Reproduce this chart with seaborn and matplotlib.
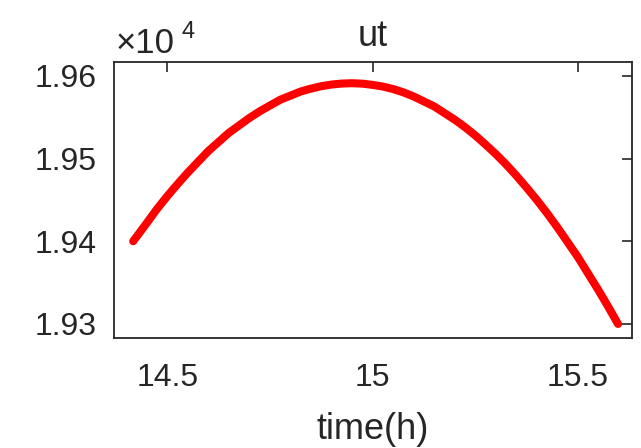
import matplotlib
matplotlib.use("Agg")
import matplotlib.pyplot as plt
from matplotlib.ticker import FuncFormatter, FixedLocator
import seaborn as sns
import pandas as pd

# Time of day (hours) and the ut value over the pass
time_h = [14.417, 14.45, 14.475, 14.50, 14.525, 14.55, 14.575, 14.60, 14.625,
          14.65, 14.675, 14.70, 14.725, 14.75, 14.775, 14.80, 14.825, 14.85,
          14.875, 14.90, 14.925, 14.95, 14.975, 15.00, 15.025, 15.05, 15.075,
          15.10, 15.125, 15.15, 15.175, 15.20, 15.225, 15.25, 15.275, 15.30,
          15.325, 15.35, 15.375, 15.40, 15.425, 15.45, 15.475, 15.50, 15.525,
          15.55, 15.575, 15.598]
ut = [19400.0, 19422.0, 19439.0, 19454.5, 19469.0, 19483.0, 19496.0, 19509.0,
      19520.0, 19531.0, 19540.0, 19549.0, 19557.0, 19564.0, 19571.0, 19576.0,
      19581.0, 19584.5, 19587.4, 19589.4, 19590.6, 19591.0, 19590.5, 19589.0,
      19587.0, 19584.0, 19580.0, 19575.0, 19569.0, 19563.0, 19555.0, 19547.0,
      19538.0, 19528.0, 19517.0, 19505.5, 19493.0, 19479.5, 19465.0, 19450.0,
      19434.0, 19417.0, 19399.0, 19381.0, 19361.0, 19341.0, 19320.0, 19300.0]

x_ticks = [14.5, 15.0, 15.5]
x_tick_labels = ["14.5", "15", "15.5"]
y_ticks = [19300, 19400, 19500, 19600]

df = pd.DataFrame({"time(h)": time_h, "ut": ut})

sns.set_style("white")
plt.rcParams["font.family"] = ["Liberation Sans", "DejaVu Sans"]

ink = "#262626"
W, H = 641, 448
fig = plt.figure(figsize=(W / 100, H / 100), dpi=100)
left, right, top, bottom = 113.7, 632.0, 62.3, 337.7
ax = fig.add_axes([left / W, 1 - bottom / H, (right - left) / W, (bottom - top) / H])

sns.lineplot(data=df, x="time(h)", y="ut", ax=ax, color="#ff0000",
             linewidth=5.8, solid_capstyle="round", solid_joinstyle="round",
             sort=False)

ax.set_xlim(14.3695, 15.632)
ax.set_ylim(19283.4, 19616.3)

ax.xaxis.set_major_locator(FixedLocator(x_ticks))
ax.set_xticklabels(x_tick_labels)
ax.yaxis.set_major_locator(FixedLocator(y_ticks))
ax.yaxis.set_major_formatter(FuncFormatter(lambda v, p: f"{v / 1e4:.2f}"))

ax.tick_params(axis="both", which="major", direction="in", length=7, width=1.2,
               color=ink, labelcolor=ink, labelsize=23, top=True, right=True)
ax.tick_params(axis="x", pad=18)
ax.tick_params(axis="y", pad=12)
for s in ax.spines.values():
    s.set_visible(True)
    s.set_color(ink)
    s.set_linewidth(1.3)

ax.set_xlabel("time(h)", fontsize=26, color=ink, labelpad=14)
ax.set_ylabel("")
ax.set_title("ut", fontsize=26, color=ink, pad=12)

# axis exponent label above the y axis
fig.text(116 / W, 1 - 53 / H, "×10", fontsize=25, color=ink, va="baseline", ha="left")
fig.text(181 / W, 1 - 38 / H, "4", fontsize=17, color=ink, va="baseline", ha="left")

fig.savefig("out.png", dpi=100, facecolor="white")
